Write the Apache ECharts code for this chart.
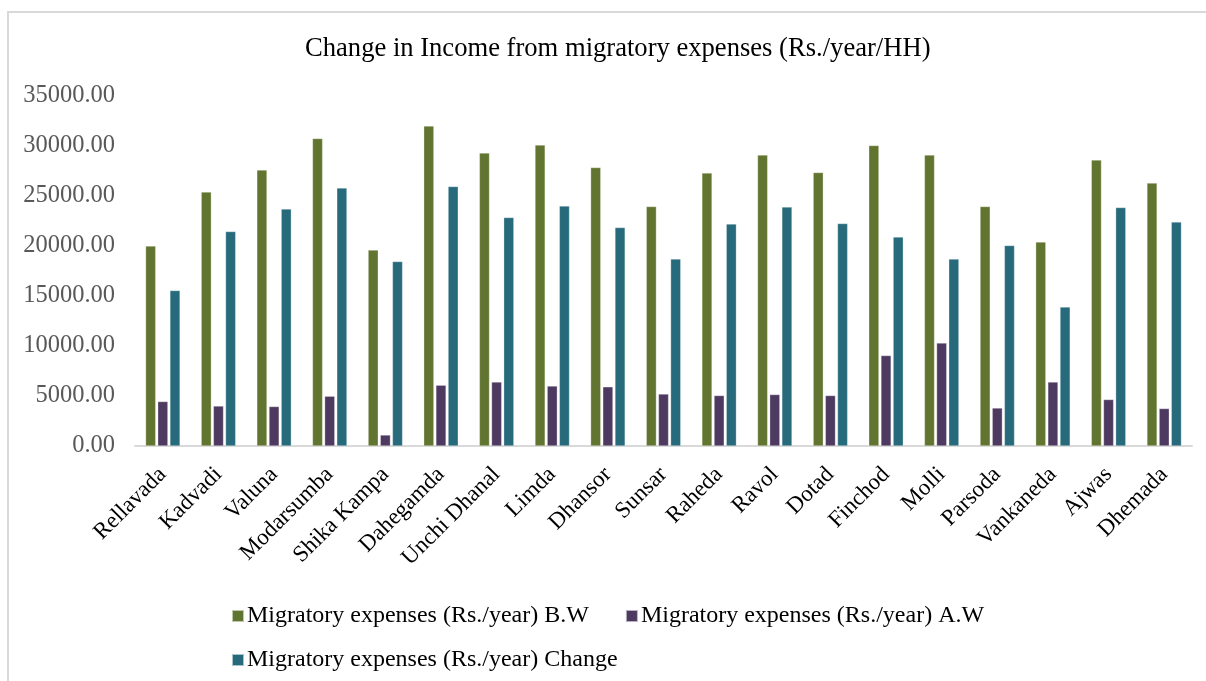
<!DOCTYPE html>
<html>
<head>
<meta charset="utf-8">
<script src="https://cdn.jsdelivr.net/npm/echarts@6/dist/echarts.min.js"></script>
<style>
  html, body { margin: 0; padding: 0; background: #fff; }
  #chart { width: 1206px; height: 681px; }
</style>
</head>
<body>
<div id="chart"></div>
<script>
// Villages surveyed
const villages = ['Rellavada', 'Kadvadi', 'Valuna', 'Modarsumba', 'Shika Kampa', 'Dahegamda',
  'Unchi Dhanal', 'Limda', 'Dhansor', 'Sunsar', 'Raheda', 'Ravol', 'Dotad', 'Finchod',
  'Molli', 'Parsoda', 'Vankaneda', 'Ajwas', 'Dhemada'];

// Migratory expenses (Rs./year) before work
const expensesBW = [20000, 25400, 27600, 30750, 19600, 32000, 29300, 30100, 27850, 23950,
  27300, 29100, 27350, 30050, 29100, 23950, 20400, 28600, 26300];

// Migratory expenses (Rs./year) after work
const expensesAW = [4450, 4000, 3950, 4980, 1100, 6080, 6400, 6000, 5920, 5200,
  5050, 5150, 5050, 9050, 10300, 3800, 6400, 4650, 3750];

// Change between the two
const expensesChange = [15550, 21450, 23700, 25800, 18450, 25950, 22850, 24000, 21850, 18700,
  22200, 23900, 22250, 20900, 18700, 20050, 13900, 23850, 22400];

const seriesNames = ['Migratory expenses (Rs./year) B.W', 'Migratory expenses (Rs./year) A.W',
  'Migratory expenses (Rs./year) Change'];

const serif = '"Liberation Serif", "DejaVu Serif", serif';
const colors = ['#627530', '#4e3a60', '#266a7b'];

const chart = echarts.init(document.getElementById('chart'), null, { renderer: 'canvas' });

function barSeries(name, data, color) {
  return {
    name: name,
    type: 'bar',
    data: data,
    barGap: '20%',
    barCategoryGap: '38%',
    itemStyle: { color: color, borderColor: 'rgba(255,255,255,0.6)', borderWidth: 0.5 }
  };
}

const legendText = { fontFamily: serif, fontSize: 24, color: '#000', padding: [0, 0, 0, -2] };

chart.setOption({
  animation: false,
  backgroundColor: '#fff',
  color: colors,
  title: {
    text: 'Change in Income from migratory expenses (Rs./year/HH)',
    left: 300,
    top: 31,
    textStyle: { fontFamily: serif, fontSize: 26.6, fontWeight: 'normal', color: '#000' }
  },
  graphic: [
    {
      type: 'polyline',
      shape: { points: [[8, 681], [8, 12], [1206, 12]] },
      style: { stroke: '#d9d9d9', lineWidth: 2, fill: null }
    }
  ],
  legend: [
    {
      left: 226,
      top: 599,
      itemWidth: 12,
      itemHeight: 12,
      itemGap: 36,
      icon: 'rect',
      textStyle: legendText,
      data: [seriesNames[0], seriesNames[1]]
    },
    {
      left: 226,
      top: 643,
      itemWidth: 12,
      itemHeight: 12,
      icon: 'rect',
      textStyle: legendText,
      data: [seriesNames[2]]
    }
  ],
  grid: { left: 135, right: 14, top: 96, bottom: 235, containLabel: false },
  xAxis: {
    type: 'category',
    data: villages,
    axisLine: { lineStyle: { color: '#d9d9d9', width: 2 } },
    axisTick: { show: false },
    axisLabel: {
      rotate: 45,
      interval: 0,
      margin: 25,
      fontFamily: serif,
      fontSize: 23,
      color: '#000'
    }
  },
  yAxis: {
    type: 'value',
    min: 0,
    max: 35000,
    interval: 5000,
    splitLine: { show: false },
    axisLine: { show: false },
    axisTick: { show: false },
    axisLabel: {
      margin: 20,
      fontFamily: serif,
      fontSize: 24.5,
      color: '#595959',
      formatter: v => v.toFixed(2)
    }
  },
  series: [
    barSeries(seriesNames[0], expensesBW, colors[0]),
    barSeries(seriesNames[1], expensesAW, colors[1]),
    barSeries(seriesNames[2], expensesChange, colors[2])
  ]
});
</script>
</body>
</html>
